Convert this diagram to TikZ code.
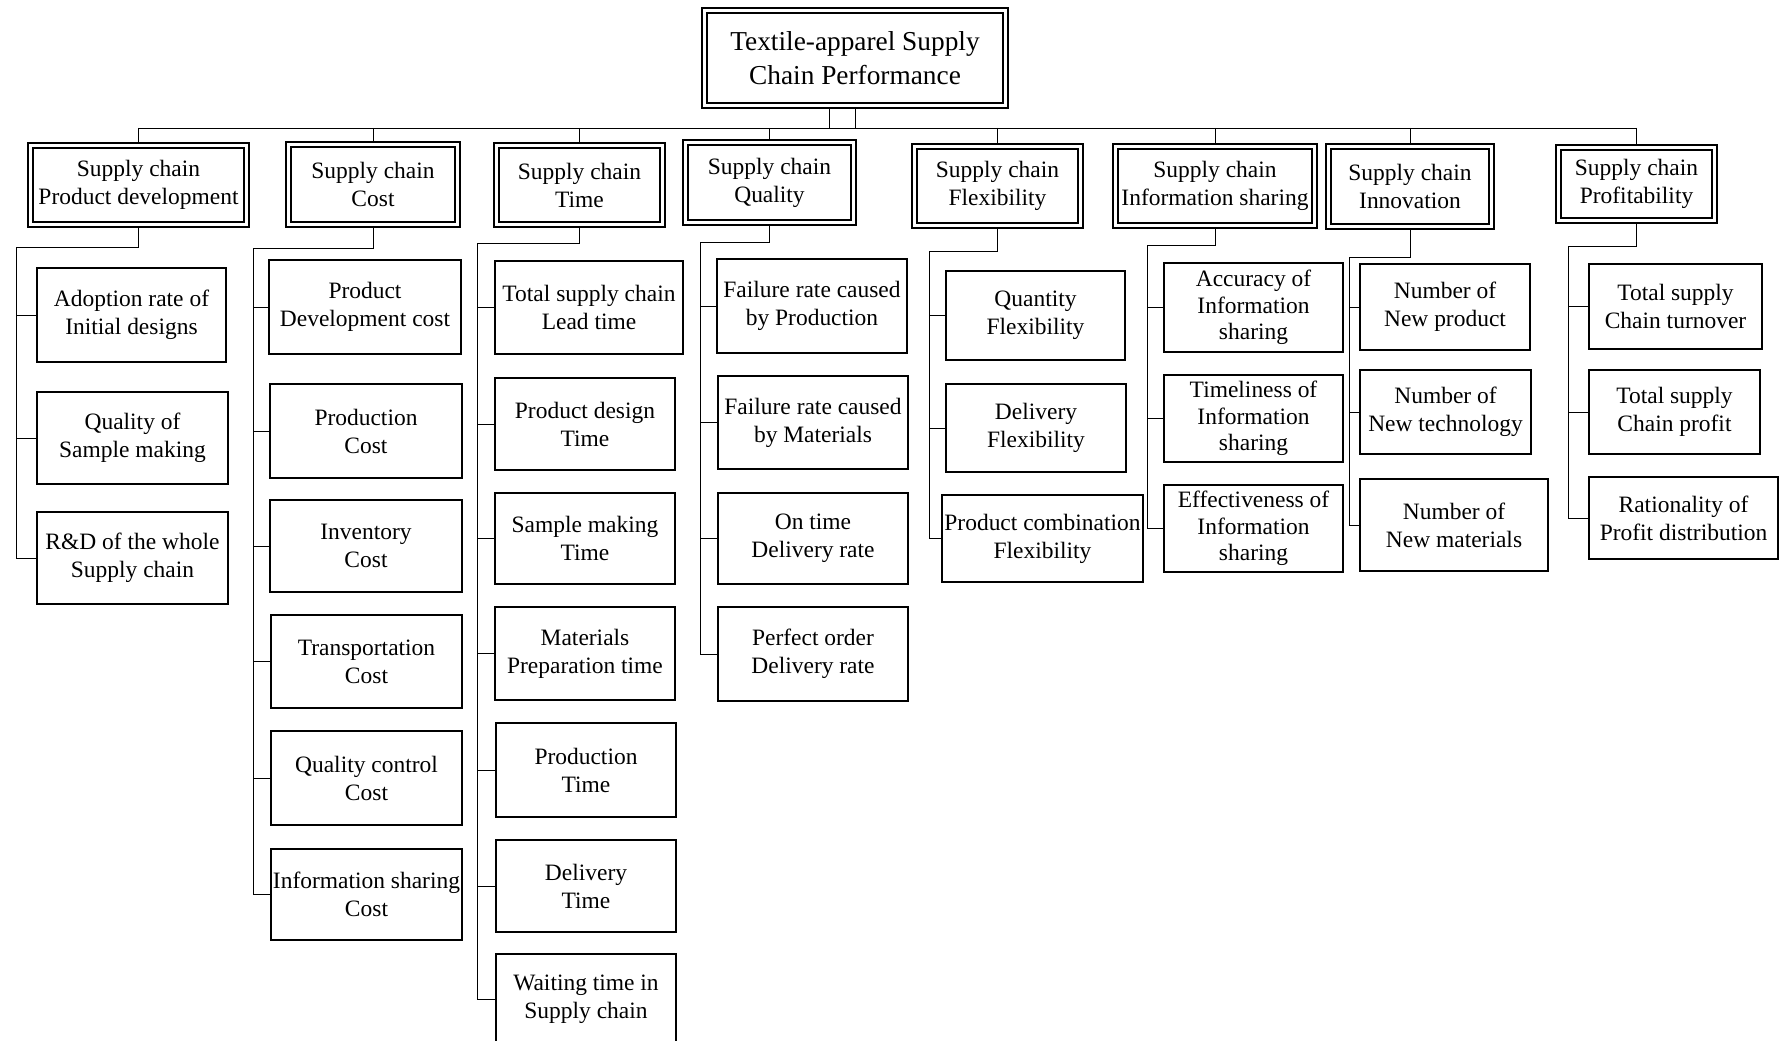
\documentclass[tikz,border=0pt]{standalone}
\usepackage{fontspec}
\setmainfont{Liberation Serif}
% box from its left, top, right and bottom edges (in drawing units)
\newcommand\bx[7]{\node[#2, minimum width={(#5-#3)*0.75pt}, minimum height={(#6-#4)*0.75pt}] (#1) at ({(#3+#5)/2},{(#4+#6)/2+1}) {#7};}
\begin{document}
\begin{tikzpicture}[x=0.75pt,y=-0.75pt,
  every node/.style={inner sep=0pt, outer sep=0pt, align=center},
  leafbox/.style={draw, line width=1.2pt, font=\fontsize{17.6}{21}\selectfont},
  threebox/.style={leafbox, font=\fontsize{17.6}{20}\selectfont},
  catbox/.style={draw, line width=1.5pt, font=\fontsize{17.6}{21}\selectfont},
  rootbox/.style={draw, line width=1.6pt, font=\fontsize{20.5}{25}\selectfont},
  innerframe/.style={line width=0.8pt},
  wire/.style={line width=0.6pt}]
\useasboundingbox (0,0) rectangle (1783,1041);
\clip (0,0) rectangle (1783,1041);
\fill[white] (0,0) rectangle (1783,1041);

% root and categories
\bx{root}{rootbox}{702}{7}{1008}{107}{Textile-apparel Supply\\Chain Performance}
\bx{c1}{catbox}{28}{142}{249}{226}{Supply chain\\Product development}
\bx{c2}{catbox}{286}{141}{460}{226}{Supply chain\\Cost}
\bx{c3}{catbox}{494}{142}{665}{226}{Supply chain\\Time}
\bx{c4}{catbox}{683}{139}{856}{224}{Supply chain\\Quality}
\bx{c5}{catbox}{912}{143}{1083}{227}{Supply chain\\Flexibility}
\bx{c6}{catbox}{1113}{143}{1317}{227}{Supply chain\\Information sharing}
\bx{c7}{catbox}{1326}{143}{1494}{228}{Supply chain\\Innovation}
\bx{c8}{catbox}{1556}{144}{1717}{222}{Supply chain\\Profitability}
\foreach \n in {root,c1,c2,c3,c4,c5,c6,c7,c8}
  \draw[innerframe] ([shift={(5,5)}]\n.north west) rectangle ([shift={(-5,-5)}]\n.south east);

% indicators
\bx{a1}{leafbox}{37}{267}{226}{361}{Adoption rate of\\Initial designs}
\bx{a2}{leafbox}{37}{391}{228}{483}{Quality of\\Sample making}
\bx{a3}{leafbox}{37}{511}{228}{603}{R\&D of the whole\\Supply chain}

\bx{b1}{leafbox}{269}{259}{461}{353}{Product\\Development cost}
\bx{b2}{leafbox}{270}{383}{462}{477}{Production\\Cost}
\bx{b3}{leafbox}{270}{499}{462}{591}{Inventory\\Cost}
\bx{b4}{leafbox}{271}{614}{462}{707}{Transportation\\Cost}
\bx{b5}{leafbox}{271}{730}{462}{824}{Quality control\\Cost}
\bx{b6}{leafbox}{271}{848}{462}{939}{Information sharing\\Cost}

\bx{d1}{leafbox}{495}{260}{683}{353}{Total supply chain\\Lead time}
\bx{d2}{leafbox}{495}{377}{675}{469}{Product design\\Time}
\bx{d3}{leafbox}{495}{492}{675}{583}{Sample making\\Time}
\bx{d4}{leafbox}{495}{606}{675}{699}{Materials\\Preparation time}
\bx{d5}{leafbox}{496}{722}{676}{816}{Production\\Time}
\bx{d6}{leafbox}{496}{839}{676}{931}{Delivery\\Time}
\bx{d7}{leafbox}{496}{953}{676}{1044}{Waiting time in\\Supply chain}

\bx{e1}{leafbox}{717}{258}{907}{352}{Failure rate caused\\by Production}
\bx{e2}{leafbox}{718}{375}{908}{468}{Failure rate caused\\by Materials}
\bx{e3}{leafbox}{718}{492}{908}{583}{On time\\Delivery rate}
\bx{e4}{leafbox}{718}{606}{908}{700}{Perfect order\\Delivery rate}

\bx{f1}{leafbox}{946}{270}{1125}{359}{Quantity\\Flexibility}
\bx{f2}{leafbox}{946}{383}{1126}{471}{Delivery\\Flexibility}
\bx{f3}{leafbox}{942}{494}{1143}{581}{Product combination\\Flexibility}

\bx{g1}{threebox}{1164}{262}{1343}{351}{Accuracy of\\Information\\sharing}
\bx{g2}{threebox}{1164}{374}{1343}{461}{Timeliness of\\Information\\sharing}
\bx{g3}{threebox}{1164}{484}{1343}{571}{Effectiveness of\\Information\\sharing}

\bx{h1}{leafbox}{1360}{263}{1530}{349}{Number of\\New product}
\bx{h2}{leafbox}{1360}{369}{1531}{453}{Number of\\New technology}
\bx{h3}{leafbox}{1360}{478}{1548}{570}{Number of\\New materials}

\bx{i1}{leafbox}{1589}{263}{1762}{348}{Total supply\\Chain turnover}
\bx{i2}{leafbox}{1589}{369}{1760}{453}{Total supply\\Chain profit}
\bx{i3}{leafbox}{1589}{476}{1778}{558}{Rationality of\\Profit distribution}

% bus and elbow points
\coordinate (bus) at (0,128);
\coordinate (k1) at (16,247);
\coordinate (k2) at (253,248);
\coordinate (k3) at (477,243);
\coordinate (k4) at (700,242);
\coordinate (k5) at (929,251);
\coordinate (k6) at (1147,245);
\coordinate (k7) at (1349,257);
\coordinate (k8) at (1568,246);

% root to categories
\draw[wire] (root.south) -- (root.south |- bus);
\draw[wire] ([shift={(-26,0)}]root.south) -- ([shift={(-26,0)}]root.south |- bus);
\draw[wire] (c1.north |- bus) -- (c8.north |- bus);
\foreach \c in {c1,c2,c3,c4,c5,c6,c7,c8}
  \draw[wire] (\c.north |- bus) -- (\c.north);

% categories to indicators
\draw[wire] (c1.south) |- (k1) |- (a3.west);
\foreach \o in {a1,a2} \draw[wire] (k1 |- \o.west) -- (\o.west);
\draw[wire] (c2.south) |- (k2) |- (b6.west);
\foreach \o in {b1,b2,b3,b4,b5} \draw[wire] (k2 |- \o.west) -- (\o.west);
\draw[wire] (c3.south) |- (k3) |- (d7.west);
\foreach \o in {d1,d2,d3,d4,d5,d6} \draw[wire] (k3 |- \o.west) -- (\o.west);
\draw[wire] (c4.south) |- (k4) |- (e4.west);
\foreach \o in {e1,e2,e3} \draw[wire] (k4 |- \o.west) -- (\o.west);
\draw[wire] (c5.south) |- (k5) |- (f3.west);
\foreach \o in {f1,f2} \draw[wire] (k5 |- \o.west) -- (\o.west);
\draw[wire] (c6.south) |- (k6) |- (g3.west);
\foreach \o in {g1,g2} \draw[wire] (k6 |- \o.west) -- (\o.west);
\draw[wire] (c7.south) |- (k7) |- (h3.west);
\foreach \o in {h1,h2} \draw[wire] (k7 |- \o.west) -- (\o.west);
\draw[wire] (c8.south) |- (k8) |- (i3.west);
\foreach \o in {i1,i2} \draw[wire] (k8 |- \o.west) -- (\o.west);
\end{tikzpicture}
\end{document}
